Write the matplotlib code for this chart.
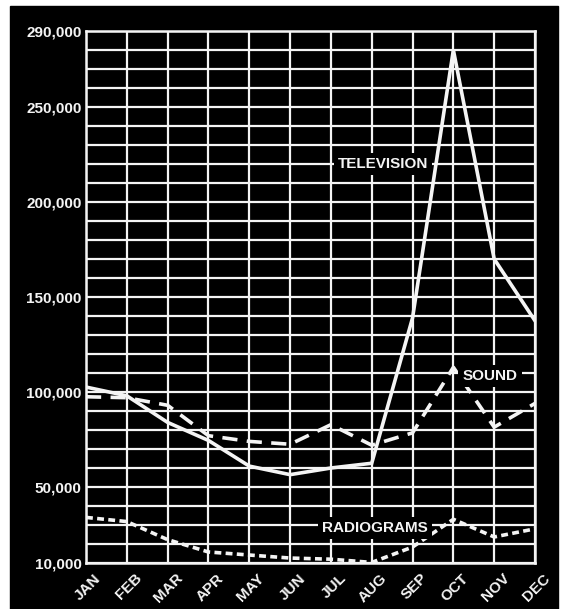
import matplotlib.pyplot as plt
import matplotlib.transforms as mtransforms
from matplotlib.patches import Rectangle

# ---- dados ----
meses = ["JAN", "FEB", "MAR", "APR", "MAY", "JUN",
         "JUL", "AUG", "SEP", "OCT", "NOV", "DEC"]
television = [102600, 98000, 84000, 74500, 61000, 56500,
              60000, 62500, 139000, 280000, 170000, 137500]
sound = [97500, 97000, 93000, 77000, 74000, 72500,
         82800, 72000, 78500, 113000, 81500, 94000]
radiograms = [34000, 31800, 22300, 15800, 14200, 12600,
              12000, 10300, 18400, 33000, 23700, 28000]
yticks = [10000, 50000, 100000, 150000, 200000, 250000, 290000]

fonte = "Liberation Sans"
branco = "#f4f4f4"

fig = plt.figure(figsize=(5.65, 6.09), dpi=100, facecolor="white")
# fundo preto do recorte
fig.patches.append(Rectangle((10 / 565, 0), 548 / 565, 1 - 6 / 609,
                             transform=fig.transFigure, color="black", zorder=-10))

ax = fig.add_axes([86 / 565, 1 - 563 / 609, 449 / 565, 532 / 609])
ax.set_zorder(1)
ax.set_facecolor("black")

x = list(range(len(meses)))
ax.plot(x, television, color=branco, lw=2.6, solid_joinstyle="miter", zorder=3)
ax.plot(x, sound, color=branco, lw=2.6, dashes=(4.2, 2.6), zorder=3)
ax.plot(x, radiograms, color=branco, lw=2.6, dashes=(1.9, 1.2), zorder=3)

ax.set_xlim(0, 11)
ax.set_ylim(10000, 290000)

# grade
for v in range(10000, 290001, 10000):
    ax.axhline(v, color=branco, lw=1.6, zorder=1)
for i in x:
    ax.axvline(i, color=branco, lw=1.6, zorder=1)
for s in ax.spines.values():
    s.set_color(branco)
    s.set_linewidth(1.8)

ax.set_yticks(yticks)
ax.set_yticklabels([f"{v:,}" for v in yticks], fontfamily=fonte,
                   fontweight="bold", fontsize=11, color=branco)
ax.set_xticks(x)
ax.set_xticklabels(meses, rotation=45, ha="right", va="top",
                   rotation_mode="anchor", fontfamily=fonte,
                   fontweight="bold", fontsize=11, color=branco)
ax.tick_params(length=0, pad=3)
offset = mtransforms.ScaledTranslation(8 / 100, -4 / 100, fig.dpi_scale_trans)
for lab in ax.get_xticklabels():
    lab.set_transform(lab.get_transform() + offset)

# rótulos das séries
caixa = dict(facecolor="black", edgecolor="none", pad=3)
for txt, xx, yy in [("TELEVISION", 7.28, 220000),
                    ("SOUND", 9.9, 108500),
                    ("RADIOGRAMS", 7.08, 28500)]:
    ax.text(xx, yy, txt, color=branco, fontfamily=fonte, fontweight="bold",
            fontsize=11, ha="center", va="center", bbox=caixa, zorder=4)

fig.savefig("out.png", dpi=100, facecolor="white")
